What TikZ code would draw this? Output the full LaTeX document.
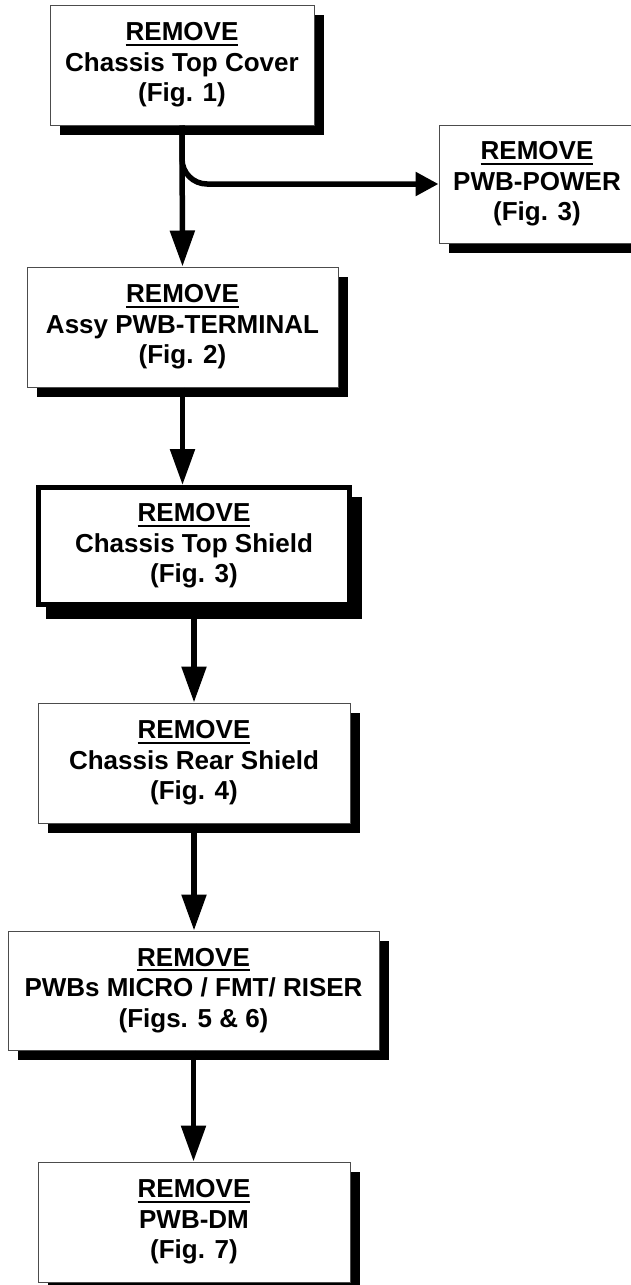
\documentclass[tikz,border=0pt]{standalone}
\usepackage{fontspec}
\setmainfont{Liberation Sans}
\usetikzlibrary{arrows.meta,shadows}
\newcommand\remul[1]{\leavevmode\setbox0\hbox{#1}\rlap{\rule[-5pt]{\wd0}{2pt}}\box0}
\begin{document}
\begin{tikzpicture}[x=1pt,y=-1pt,
  basebox/.style={fill=white, align=center, inner sep=0pt,
     font=\bfseries\fontsize{26pt}{30.5pt}\selectfont},
  box/.style={basebox, draw=black!70, line width=1pt,
     drop shadow={shadow xshift=10pt, shadow yshift=-10pt, fill=black, opacity=1}},
  thickbox/.style={basebox, draw=black, line width=5pt,
     drop shadow={shadow xshift=10pt, shadow yshift=-12pt, fill=black, draw=black, line width=5pt, opacity=1}},
  varrow/.style={line width=5.5pt, -{Triangle[length=36pt,width=24pt]}},
  harrow/.style={line width=5.5pt, rounded corners=25pt, -{Triangle[length=23pt,width=23pt]}}
]
\fill[white] (0,0) rectangle (630,1285);
\useasboundingbox (0,0) rectangle (630,1285);

\node[box, minimum width=264pt, minimum height=120pt] (b1) at (182,65)
  {\remul{REMOVE}\\Chassis Top Cover\\(Fig. 1)};
\node[box, minimum width=196pt, minimum height=118pt] (power) at (537,184)
  {\remul{REMOVE}\\PWB-POWER\\(Fig. 3)};
\node[box, minimum width=311pt, minimum height=120pt] (b2) at (182.5,327)
  {\remul{REMOVE}\\Assy PWB-TERMINAL\\(Fig. 2)};
\node[thickbox, minimum width=311pt, minimum height=117pt] (b3) at (194,546)
  {\remul{REMOVE}\\Chassis Top Shield\\(Fig. 3)};
\node[box, minimum width=312pt, minimum height=120pt] (b4) at (194,763)
  {\remul{REMOVE}\\Chassis Rear Shield\\(Fig. 4)};
\node[box, minimum width=371pt, minimum height=119pt] (b5) at (193.5,990.5)
  {\remul{REMOVE}\\PWBs MICRO / FMT/ RISER\\(Figs. 5 \& 6)};
\node[box, minimum width=312pt, minimum height=120pt] (b6) at (194,1222)
  {\remul{REMOVE}\\PWB-DM\\(Fig. 7)};

\draw[harrow] (b1.south) |- (power.west);
\draw[varrow] (b1.south) -- (b2.north);
\draw[varrow] (b2.south) -- (b2.south |- b3.north);
\draw[varrow] (b3.south) -- (b4.north);
\draw[varrow] (b4.south) -- (b4.south |- b5.north);
\draw[varrow] (b5.south) -- (b5.south |- b6.north);
\end{tikzpicture}
\end{document}
